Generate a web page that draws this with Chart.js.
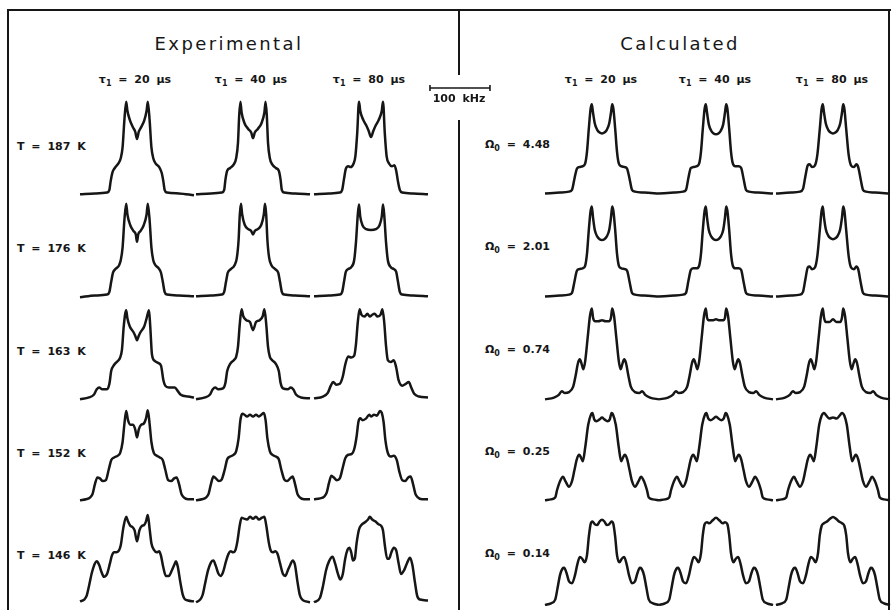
<!DOCTYPE html>
<html>
<head>
<meta charset="utf-8">
<script src="https://cdn.jsdelivr.net/npm/chart.js@4/dist/chart.umd.min.js"></script>
<style>
  html, body { margin: 0; padding: 0; background: #fff; }
  #page { position: relative; width: 891px; height: 610px; overflow: hidden; background: #fff; }
  .rule { position: absolute; background: #161616; }
  .txt { position: absolute; color: #161616; font-family: "DejaVu Sans", sans-serif; white-space: nowrap; }
  .title { font-size: 18px; letter-spacing: 2.4px; transform: translate(-50%, -50%); }
  .head { font-size: 11px; font-weight: bold; word-spacing: 3px; transform: translate(-50%, -50%); }
  .row { font-size: 11px; font-weight: bold; word-spacing: 3px; transform: translateY(-50%); }
  sub { font-size: 8px; vertical-align: -3px; }
  canvas { position: absolute; }
</style>
</head>
<body>
<div id="page"></div>
<script>
"use strict";

// ---- labels ----
const temperatures = ["187", "176", "163", "152", "146"];
const omegas = ["4.48", "2.01", "0.74", "0.25", "0.14"];
const tauValues = [20, 40, 80];
const scaleBarKHz = [0, 100];

// ---- spectra: [frequency offset kHz, intensity] ----
// Experimental, T = 187 K
const exp187_20 = [[-95,-2],[-70,-1],[-50,0],[-46,3],[-44,12],[-41,22],[-37,27],[-31,32],[-27,38],[-24,50],[-21,80],[-18,100],[-16,90],[-12,80],[-7,72],[-3,67],[0,59],[3,67],[7,72],[12,79],[16,90],[18,100],[21,80],[24,50],[27,38],[31,32],[37,28],[41,22],[44,12],[46,3],[50,0],[70,-1],[95,-3]];
const exp187_40 = [[-95,-2],[-70,-1],[-52,0],[-48,3],[-46,14],[-43,24],[-38,27],[-32,31],[-28,38],[-25,55],[-23,85],[-21,100],[-19,88],[-14,76],[-8,70],[-3,66],[0,60],[3,66],[8,70],[14,76],[19,88],[21,100],[23,85],[25,55],[28,38],[32,31],[38,27],[43,24],[46,14],[48,3],[52,0],[70,-1],[95,-2]];
const exp187_80 = [[-95,-2],[-70,-1],[-52,0],[-48,3],[-45,15],[-42,26],[-38,29],[-34,28],[-29,32],[-26,40],[-23,65],[-20,100],[-18,90],[-13,80],[-8,74],[-4,68],[0,61],[4,68],[8,74],[13,80],[18,90],[20,100],[23,65],[26,40],[30,32],[35,29],[39,30],[42,24],[45,12],[48,3],[52,0],[70,-1],[95,-2]];
// Experimental, T = 176 K
const exp176_20 = [[-95,-3],[-70,-1],[-50,0],[-46,3],[-43,14],[-40,24],[-36,28],[-30,32],[-27,38],[-24,52],[-21,82],[-18,100],[-16,88],[-11,76],[-6,70],[-2,66],[0,58],[2,66],[6,70],[11,76],[16,88],[18,100],[21,82],[24,52],[27,38],[31,32],[36,29],[40,24],[43,14],[46,3],[50,0],[70,-1],[95,-2]];
const exp176_40 = [[-95,-2],[-70,-1],[-52,0],[-48,3],[-45,14],[-42,24],[-37,28],[-31,32],[-27,40],[-24,60],[-22,88],[-20,100],[-18,88],[-14,77],[-8,72],[-3,70],[0,66],[3,70],[8,72],[14,77],[18,88],[20,100],[22,88],[24,60],[27,40],[31,32],[37,28],[42,24],[45,14],[48,3],[52,0],[70,-1],[95,-2]];
const exp176_80 = [[-95,-2],[-70,-1],[-52,0],[-48,3],[-45,14],[-42,25],[-38,28],[-33,30],[-28,38],[-25,58],[-22,88],[-20,99],[-18,86],[-14,76],[-8,72],[0,71],[8,72],[14,76],[18,86],[20,99],[22,88],[25,58],[28,38],[33,30],[38,28],[42,25],[45,14],[48,3],[52,0],[70,-1],[95,-2]];
// Experimental, T = 163 K
const exp163_20 = [[-95,-3],[-80,-1],[-72,2],[-67,8],[-63,10],[-58,8],[-50,8],[-46,14],[-43,28],[-38,35],[-32,39],[-28,43],[-25,52],[-22,78],[-18,95],[-16,86],[-12,77],[-6,71],[-3,67],[0,62],[3,67],[6,71],[12,77],[16,86],[20,95],[22,78],[25,46],[30,39],[35,37],[40,34],[44,18],[47,12],[53,10],[63,10],[68,6],[73,2],[85,0],[95,-1]];
const exp163_40 = [[-95,-3],[-80,-1],[-72,2],[-67,8],[-63,10],[-58,8],[-50,9],[-46,15],[-43,28],[-38,36],[-32,40],[-28,44],[-25,55],[-22,80],[-19,96],[-16,88],[-11,84],[-5,82],[0,73],[5,82],[11,84],[16,88],[19,96],[22,80],[25,55],[28,44],[32,40],[38,36],[43,28],[46,15],[50,9],[58,8],[63,10],[67,8],[72,2],[80,-1],[95,-2]];
const exp163_80 = [[-95,-2],[-80,0],[-72,4],[-67,12],[-63,16],[-58,13],[-52,14],[-47,22],[-43,35],[-38,44],[-33,43],[-28,45],[-25,58],[-22,82],[-19,96],[-16,90],[-11,88],[-6,91],[-2,88],[2,90],[6,91],[11,88],[16,90],[19,96],[22,82],[25,56],[28,40],[33,38],[38,40],[42,32],[46,18],[52,12],[58,14],[63,16],[67,10],[72,3],[80,0],[95,-1]];
// Experimental, T = 152 K
const exp152_20 = [[-95,-4],[-85,-3],[-78,-1],[-74,3],[-70,14],[-66,21],[-62,20],[-57,17],[-52,18],[-47,30],[-43,40],[-38,43],[-32,45],[-28,48],[-24,60],[-21,80],[-18,94],[-15,84],[-11,79],[-7,79],[-3,74],[0,65],[3,74],[7,79],[11,80],[15,86],[18,95],[21,80],[24,60],[28,48],[33,45],[38,43],[43,40],[47,30],[52,18],[57,17],[62,20],[66,21],[70,14],[74,3],[78,-1],[85,-3],[95,-3]];
const exp152_40 = [[-95,-4],[-85,-3],[-78,-1],[-74,3],[-70,14],[-66,22],[-62,20],[-57,17],[-52,19],[-47,30],[-43,41],[-38,44],[-32,46],[-28,50],[-24,64],[-21,84],[-18,91],[-14,90],[-10,88],[-5,90],[0,88],[5,90],[10,88],[14,90],[18,92],[21,84],[24,64],[28,50],[32,46],[38,44],[43,41],[47,30],[52,19],[57,17],[62,20],[66,22],[70,14],[74,3],[78,-1],[85,-3],[95,-3]];
const exp152_80 = [[-95,-3],[-85,-2],[-78,0],[-74,4],[-70,15],[-66,23],[-62,21],[-57,18],[-52,20],[-47,32],[-43,42],[-38,46],[-32,47],[-28,52],[-24,66],[-21,82],[-18,86],[-14,84],[-8,86],[-3,90],[0,88],[5,90],[10,89],[15,94],[18,92],[21,82],[24,62],[28,48],[33,44],[38,45],[43,40],[47,28],[52,18],[57,17],[62,21],[66,22],[70,14],[74,3],[78,-1],[85,-3],[95,-3]];
// Experimental, T = 146 K
const exp146_20 = [[-95,-2],[-88,0],[-84,4],[-80,15],[-75,30],[-70,40],[-67,42],[-63,38],[-59,30],[-55,25],[-50,28],[-45,40],[-42,48],[-38,52],[-34,52],[-30,54],[-27,60],[-23,78],[-18,91],[-15,86],[-11,81],[-8,80],[-4,76],[0,64],[4,76],[8,81],[12,82],[15,86],[18,93],[21,78],[24,62],[28,55],[33,52],[37,53],[40,48],[44,35],[48,26],[53,26],[58,32],[62,38],[65,42],[68,36],[72,20],[76,6],[79,1],[85,-1],[95,-2]];
const exp146_40 = [[-95,-3],[-88,0],[-84,5],[-80,17],[-75,32],[-70,41],[-66,43],[-62,37],[-58,29],[-54,26],[-50,30],[-45,42],[-41,50],[-37,53],[-33,52],[-29,55],[-26,64],[-22,82],[-19,90],[-15,89],[-10,88],[-5,91],[0,89],[5,91],[10,88],[15,90],[19,91],[22,82],[26,64],[29,55],[33,52],[37,53],[41,50],[45,40],[50,28],[54,26],[58,32],[62,38],[66,43],[70,38],[74,20],[78,5],[82,0],[88,-2],[95,-3]];
const exp146_80 = [[-95,-3],[-85,2],[-80,15],[-75,32],[-70,42],[-64,47],[-60,40],[-55,28],[-51,22],[-47,28],[-43,45],[-39,55],[-36,57],[-33,52],[-30,43],[-27,45],[-24,62],[-20,77],[-16,82],[-10,85],[-5,88],[-2,91],[2,88],[7,86],[12,83],[17,81],[20,76],[23,60],[27,45],[30,45],[34,52],[38,57],[42,54],[46,40],[50,28],[55,32],[60,40],[65,46],[69,38],[73,20],[77,4],[82,0],[95,-1]];

// Calculated, Omega0 = 4.48
const calc448_20 = [[-95,-1],[-70,0],[-55,1],[-50,3],[-46,15],[-42,26],[-38,28],[-32,29],[-28,32],[-25,45],[-22,70],[-19,92],[-17,97],[-15,88],[-12,76],[-8,69],[-4,66],[0,65],[4,66],[8,69],[12,76],[15,88],[17,97],[19,92],[22,70],[25,45],[28,32],[32,29],[38,28],[42,26],[46,15],[50,3],[55,1],[70,0],[95,-1]];
const calc448_40 = [[-95,-1],[-70,0],[-55,1],[-50,3],[-46,16],[-42,27],[-38,28],[-32,29],[-28,32],[-25,45],[-22,70],[-19,92],[-17,97],[-15,88],[-12,75],[-8,68],[-4,65],[0,64],[4,65],[8,68],[12,75],[15,88],[17,97],[19,92],[22,70],[25,45],[28,32],[32,29],[38,29],[42,27],[46,15],[50,3],[55,1],[70,0],[95,-1]];
const calc448_80 = [[-95,-1],[-70,0],[-55,1],[-50,4],[-46,18],[-42,30],[-39,31],[-35,28],[-30,30],[-26,42],[-22,70],[-19,92],[-17,97],[-15,88],[-12,76],[-8,69],[-4,66],[0,65],[4,66],[8,69],[12,76],[15,88],[17,97],[19,92],[22,70],[26,42],[30,30],[35,28],[39,31],[42,28],[46,15],[50,3],[55,1],[70,0],[95,-1]];
// Calculated, Omega0 = 2.01
const calc201_20 = [[-95,-1],[-70,0],[-55,1],[-50,3],[-46,15],[-42,27],[-38,29],[-32,30],[-28,33],[-25,46],[-22,72],[-19,93],[-17,98],[-15,86],[-12,72],[-8,65],[-4,62],[0,61],[4,62],[8,65],[12,72],[15,86],[17,98],[19,93],[22,72],[25,46],[28,33],[32,30],[38,29],[42,27],[46,15],[50,3],[55,1],[70,0],[95,-1]];
const calc201_40 = [[-95,-1],[-70,0],[-55,1],[-50,3],[-46,16],[-42,28],[-38,30],[-32,30],[-28,33],[-25,46],[-22,72],[-19,93],[-17,98],[-15,86],[-12,72],[-8,65],[-4,62],[0,61],[4,62],[8,65],[12,72],[15,86],[17,98],[19,93],[22,72],[25,46],[28,33],[32,30],[38,30],[42,28],[46,15],[50,3],[55,1],[70,0],[95,-1]];
const calc201_80 = [[-95,-1],[-70,0],[-55,1],[-50,4],[-46,18],[-42,31],[-39,32],[-35,29],[-30,31],[-26,44],[-22,72],[-19,93],[-17,98],[-15,86],[-12,73],[-8,66],[-4,63],[0,62],[4,63],[8,66],[12,73],[15,86],[17,98],[19,93],[22,72],[26,44],[30,31],[35,29],[39,32],[42,29],[46,15],[50,3],[55,1],[70,0],[95,-1]];
// Calculated, Omega0 = 0.74
const calc074_20 = [[-95,-2],[-80,0],[-72,3],[-67,7],[-62,5],[-55,6],[-48,12],[-44,24],[-40,38],[-37,42],[-34,37],[-31,31],[-28,40],[-24,65],[-20,90],[-17,98],[-15,88],[-12,84],[-6,84],[0,85],[6,84],[12,84],[15,88],[17,98],[20,90],[24,65],[28,40],[31,31],[34,37],[37,42],[40,38],[44,24],[48,12],[55,6],[62,5],[67,7],[72,3],[80,0],[95,-2]];
const calc074_40 = [[-95,-2],[-80,0],[-72,3],[-67,7],[-62,5],[-55,6],[-48,12],[-44,24],[-40,38],[-37,42],[-34,37],[-31,31],[-28,40],[-24,65],[-20,90],[-17,98],[-15,88],[-12,85],[-6,85],[0,86],[6,85],[12,85],[15,88],[17,98],[20,90],[24,65],[28,40],[31,31],[34,37],[37,42],[40,38],[44,24],[48,12],[55,6],[62,5],[67,7],[72,3],[80,0],[95,-2]];
const calc074_80 = [[-95,-2],[-80,0],[-72,3],[-67,7],[-62,5],[-55,6],[-48,12],[-44,24],[-40,38],[-37,42],[-34,37],[-31,31],[-28,40],[-24,65],[-20,90],[-17,98],[-15,88],[-12,83],[-6,83],[0,86],[6,83],[12,83],[15,88],[17,98],[20,90],[24,65],[28,40],[31,31],[34,37],[37,42],[40,38],[44,24],[48,12],[55,6],[62,5],[67,7],[72,3],[80,0],[95,-2]];
// Calculated, Omega0 = 0.25
const calc025_20 = [[-95,-3],[-85,-2],[-78,0],[-75,8],[-70,18],[-65,23],[-61,18],[-55,12],[-50,18],[-46,30],[-42,42],[-38,47],[-35,44],[-32,40],[-28,55],[-23,80],[-18,92],[-16,93],[-13,86],[-9,84],[-4,86],[0,88],[4,86],[9,84],[13,86],[16,93],[18,92],[23,80],[28,55],[32,40],[35,44],[38,47],[42,42],[46,30],[50,18],[55,12],[61,18],[65,23],[70,18],[75,8],[78,0],[85,-2],[95,-3]];
const calc025_40 = [[-95,-3],[-85,-2],[-78,0],[-75,8],[-70,18],[-65,23],[-61,18],[-55,12],[-50,18],[-46,30],[-42,42],[-38,47],[-35,44],[-32,40],[-28,55],[-23,80],[-18,92],[-16,93],[-13,87],[-9,85],[-4,87],[0,89],[4,87],[9,85],[13,87],[16,93],[18,92],[23,80],[28,55],[32,40],[35,44],[38,47],[42,42],[46,30],[50,18],[55,12],[61,18],[65,23],[70,18],[75,8],[78,0],[85,-2],[95,-3]];
const calc025_80 = [[-95,-3],[-85,-2],[-78,0],[-75,8],[-70,18],[-65,23],[-61,18],[-55,12],[-50,18],[-46,30],[-42,42],[-38,47],[-35,44],[-32,40],[-28,55],[-23,80],[-19,90],[-15,93],[-11,90],[-6,87],[0,88],[6,87],[11,90],[15,93],[19,90],[23,80],[28,55],[32,40],[35,44],[38,47],[42,42],[46,30],[50,18],[55,12],[61,18],[65,23],[70,18],[75,8],[78,0],[85,-2],[95,-3]];
// Calculated, Omega0 = 0.14
const calc014_20 = [[-95,-5],[-85,-3],[-78,1],[-74,14],[-70,28],[-66,35],[-63,36],[-59,30],[-55,21],[-50,19],[-45,28],[-41,40],[-37,48],[-33,46],[-29,42],[-25,50],[-22,70],[-19,84],[-16,87],[-12,84],[-8,83],[-4,87],[0,89],[4,87],[8,83],[12,84],[16,87],[19,84],[22,70],[25,50],[29,42],[33,46],[37,48],[41,40],[45,28],[50,19],[55,21],[59,30],[63,36],[66,35],[70,28],[74,14],[78,1],[85,-3],[95,-5]];
const calc014_40 = [[-95,-5],[-85,-3],[-78,1],[-74,14],[-70,28],[-66,35],[-63,36],[-59,30],[-55,21],[-50,19],[-45,28],[-41,40],[-37,48],[-33,46],[-29,42],[-25,52],[-22,72],[-19,84],[-15,86],[-11,85],[-6,88],[0,91],[6,88],[11,85],[15,86],[19,84],[22,72],[25,52],[29,42],[33,46],[37,48],[41,40],[45,28],[50,19],[55,21],[59,30],[63,36],[66,35],[70,28],[74,14],[78,1],[85,-3],[95,-5]];
const calc014_80 = [[-95,-5],[-85,-3],[-78,1],[-74,14],[-70,28],[-66,35],[-63,36],[-59,30],[-55,21],[-50,19],[-45,28],[-41,40],[-37,48],[-33,46],[-29,42],[-25,52],[-22,72],[-19,82],[-15,85],[-10,87],[-5,90],[0,92],[5,90],[10,87],[15,85],[19,82],[22,72],[25,52],[29,42],[33,46],[37,48],[41,40],[45,28],[50,19],[55,21],[59,30],[63,36],[66,35],[70,28],[74,14],[78,1],[85,-3],[95,-5]];

const expSpectra = [
  [exp187_20, exp187_40, exp187_80],
  [exp176_20, exp176_40, exp176_80],
  [exp163_20, exp163_40, exp163_80],
  [exp152_20, exp152_40, exp152_80],
  [exp146_20, exp146_40, exp146_80]
];
const calcSpectra = [
  [calc448_20, calc448_40, calc448_80],
  [calc201_20, calc201_40, calc201_80],
  [calc074_20, calc074_40, calc074_80],
  [calc025_20, calc025_40, calc025_80],
  [calc014_20, calc014_40, calc014_80]
];

// ---- layout (page pixels) ----
const expCenters = [137, 253, 371];
const calcCenters = [602, 716, 833];
const rowBaselines = [193, 295, 397, 497, 600];
const rowLabelY = [146, 248, 351, 453, 555];
const PANEL_W = 120, PANEL_H = 100;   // x: -100..100 kHz, y: -6..104
const INK = "#161616";

const page = document.getElementById("page");

function addRule(x, y, w, h) {
  const d = document.createElement("div");
  d.className = "rule";
  d.style.left = x + "px"; d.style.top = y + "px";
  d.style.width = w + "px"; d.style.height = h + "px";
  page.appendChild(d);
}

function addText(cls, html, x, y) {
  const d = document.createElement("div");
  d.className = "txt " + cls;
  d.innerHTML = html;
  d.style.left = x + "px"; d.style.top = y + "px";
  page.appendChild(d);
}

function baseOptions(xMin, xMax, yMin, yMax) {
  return {
    responsive: false,
    animation: false,
    events: [],
    layout: { padding: 0, autoPadding: false },
    plugins: { legend: { display: false }, tooltip: { enabled: false } },
    scales: {
      x: { type: "linear", min: xMin, max: xMax, display: false },
      y: { type: "linear", min: yMin, max: yMax, display: false }
    }
  };
}

function addSpectrum(points, cx, baseline) {
  const c = document.createElement("canvas");
  c.width = PANEL_W; c.height = PANEL_H;
  c.style.left = (cx - PANEL_W / 2) + "px";
  c.style.top = (baseline - 104 * PANEL_H / 110) + "px";
  page.appendChild(c);
  new Chart(c, {
    type: "line",
    data: {
      datasets: [{
        data: points.map(function (p) { return { x: p[0], y: p[1] }; }),
        borderColor: INK,
        borderWidth: 2.5,
        pointRadius: 0,
        cubicInterpolationMode: "monotone",
        fill: false
      }]
    },
    options: baseOptions(-100, 100, -6, 104)
  });
}

// frame
addRule(7, 9, 884, 2);
addRule(7, 9, 2, 601);
addRule(888, 9, 2, 601);
addRule(458, 9, 2, 66);
addRule(458, 120, 2, 490);

// titles
addText("title", "Experimental", 229, 43);
addText("title", "Calculated", 680, 43);

// column headers
tauValues.forEach(function (t, i) {
  const label = "\u03c4<sub>1</sub> = " + t + " \u00b5s";
  addText("head", label, expCenters[i] - 2, 80);
  addText("head", label, calcCenters[i] - 1, 80);
});

// row labels
temperatures.forEach(function (t, r) {
  addText("row", "T = " + t + " K", 17, rowLabelY[r]);
});
omegas.forEach(function (o, r) {
  addText("row", "\u03a9<sub>0</sub> = " + o, 485, rowLabelY[r] - 1);
});

// spectra
expSpectra.forEach(function (row, r) {
  row.forEach(function (pts, c) { addSpectrum(pts, expCenters[c], rowBaselines[r]); });
});
calcSpectra.forEach(function (row, r) {
  row.forEach(function (pts, c) { addSpectrum(pts, calcCenters[c], rowBaselines[r] + (r === 0 ? 0 : 1)); });
});

// 100 kHz scale bar, drawn on the same frequency scale as the spectra
(function () {
  const c = document.createElement("canvas");
  c.width = PANEL_W; c.height = 20;
  c.style.left = (430 - 20) + "px";
  c.style.top = (88 - 10) + "px";
  page.appendChild(c);
  new Chart(c, {
    type: "line",
    data: {
      datasets: [{
        data: scaleBarKHz.map(function (v) { return { x: v, y: 0 }; }),
        borderColor: INK,
        borderWidth: 1.6,
        pointStyle: "line",
        rotation: 90,
        pointRadius: 3,
        pointBorderWidth: 1.6,
        pointBorderColor: INK
      }]
    },
    options: baseOptions(-33.3, 166.7, -1, 1)
  });
  addText("head", "100 kHz", 459, 98);
})();
</script>
</body>
</html>
